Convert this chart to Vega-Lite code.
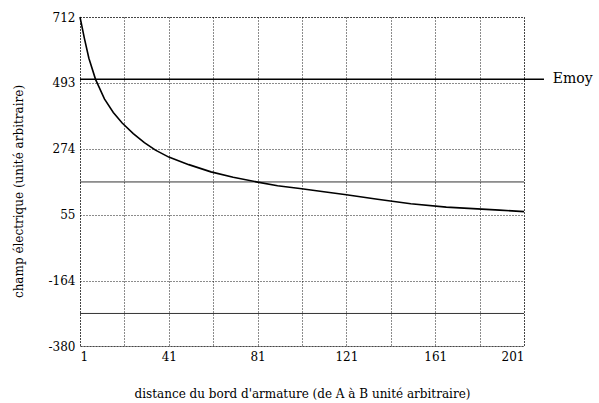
{
  "$schema": "https://vega.github.io/schema/vega-lite/v6.json",
  "width": 444,
  "height": 329,
  "autosize": "none",
  "padding": {"left": 80, "top": 17, "right": 75, "bottom": 57},
  "background": "white",
  "config": {
    "font": "DejaVu Serif",
    "view": {"stroke": "black", "strokeDash": [1, 2], "strokeWidth": 1},
    "axis": {
      "labelFont": "DejaVu Serif",
      "titleFont": "DejaVu Serif",
      "labelFontSize": 12,
      "titleFontSize": 12,
      "titleFontWeight": "normal",
      "labelColor": "black",
      "titleColor": "black",
      "domain": false,
      "ticks": false,
      "gridColor": "black",
      "gridDash": [1, 2],
      "gridWidth": 1,
      "gridOpacity": 0.9
    }
  },
  "datasets": {
    "curve": [
      {"x": 1, "E": 712}, {"x": 3, "E": 640}, {"x": 5, "E": 575}, {"x": 8, "E": 505},
      {"x": 12, "E": 440}, {"x": 16, "E": 395}, {"x": 20, "E": 360}, {"x": 25, "E": 325},
      {"x": 30, "E": 295}, {"x": 35, "E": 270}, {"x": 41, "E": 247}, {"x": 50, "E": 222},
      {"x": 60, "E": 198}, {"x": 70, "E": 180}, {"x": 81, "E": 164}, {"x": 90, "E": 152},
      {"x": 100, "E": 143}, {"x": 110, "E": 133}, {"x": 121, "E": 122}, {"x": 135, "E": 107},
      {"x": 150, "E": 92}, {"x": 166, "E": 81}, {"x": 180, "E": 75}, {"x": 190, "E": 71},
      {"x": 201, "E": 66}
    ],
    "emoy": [{"x": 1, "x2": 210, "xt": 214, "E": 505, "label": "Emoy"}],
    "solid": [{"x": 1, "x2": 201, "E": 164.5}, {"x": 1, "x2": 201, "E": -272}]
  },
  "layer": [
    {
      "data": {"name": "solid"},
      "mark": {"type": "rule", "color": "black", "strokeWidth": 1, "opacity": 0.8},
      "encoding": {
        "x": {"field": "x", "type": "quantitative"},
        "x2": {"field": "x2"},
        "y": {"field": "E", "type": "quantitative"}
      }
    },
    {
      "data": {"name": "curve"},
      "mark": {"type": "line", "color": "black", "strokeWidth": 1.6},
      "encoding": {
        "x": {
          "field": "x", "type": "quantitative",
          "scale": {"domain": [1, 201], "nice": false, "zero": false},
          "axis": {
            "values": [1, 21, 41, 61, 81, 101, 121, 141, 161, 181, 201],
            "labelExpr": "indexof([1,41,81,121,161,201], datum.value) >= 0 ? toString(datum.value) : ''",
            "labelFont": "DejaVu Serif",
            "labelFontSize": 12,
            "titleFont": "DejaVu Serif",
            "titleFontSize": 12,
            "labelPadding": 5,
            "title": "distance du bord d'armature  (de A à B  unité arbitraire)",
            "titleX": 222,
            "titleY": 47,
            "titleBaseline": "middle",
            "titleAlign": "center"
          }
        },
        "y": {
          "field": "E", "type": "quantitative",
          "scale": {"domain": [-380, 712], "nice": false, "zero": false},
          "axis": {
            "values": [712, 602.5, 493, 383.5, 274, 164.5, 55, -54.5, -164, -272, -380],
            "labelExpr": "indexof([712,493,274,55,-164,-380], datum.value) >= 0 ? toString(datum.value) : ''",
            "labelFont": "DejaVu Serif",
            "labelFontSize": 12,
            "titleFont": "DejaVu Serif",
            "titleFontSize": 12,
            "labelPadding": 5,
            "title": "champ électrique (unité arbitraire)",
            "titleX": -62,
            "titleY": 174,
            "titleAngle": -90,
            "titleAlign": "center",
            "titleBaseline": "middle"
          }
        }
      }
    },
    {
      "data": {"name": "emoy"},
      "mark": {"type": "rule", "color": "black", "strokeWidth": 1.5},
      "encoding": {
        "x": {"field": "x", "type": "quantitative"},
        "x2": {"field": "x2"},
        "y": {"field": "E", "type": "quantitative"}
      }
    },
    {
      "data": {"name": "emoy"},
      "mark": {"type": "text", "align": "left", "baseline": "middle", "font": "DejaVu Serif", "fontSize": 14, "color": "black"},
      "encoding": {
        "x": {"field": "xt", "type": "quantitative"},
        "y": {"field": "E", "type": "quantitative"},
        "text": {"field": "label"}
      }
    }
  ]
}
